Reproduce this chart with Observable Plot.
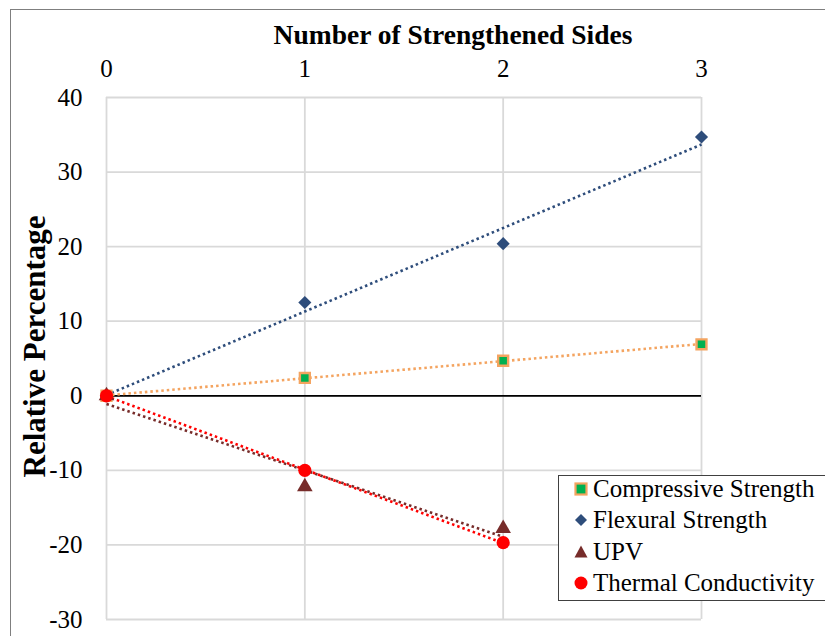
<!DOCTYPE html>
<html>
<head>
<meta charset="utf-8">
<script src="https://cdn.jsdelivr.net/npm/d3@7"></script>
<script src="https://cdn.jsdelivr.net/npm/@observablehq/plot@0.6"></script>
<style>
  body { margin: 0; background: #fff; }
  #wrap { position: relative; width: 825px; height: 636px; overflow: hidden; background: #fff; }
  #wrap svg.plot { position: absolute; left: 0; top: 0; }
  #border { position: absolute; left: 10px; top: 9px; width: 900px; height: 800px; border: 1.5px solid #7f7f7f; pointer-events: none; }
  #legend { position: absolute; left: 558px; top: 475px; width: 300px; height: 124px; border: 1.2px solid #404040; background: #fff;
            font-family: "Liberation Serif", serif; font-size: 25px; color: #000; }
  #legend .row { position: absolute; left: 0; height: 30px; display: flex; align-items: center; }
  #legend .row svg { width: 30px; height: 30px; margin-left: 7px; flex: none; }
  #legend .row span { margin-left: -3px; white-space: nowrap; }
</style>
</head>
<body>
<div id="wrap"></div>
<script>
// ---- data ----
const sides = [0, 1, 2, 3];
const compressive = [0, 2.4, 4.7, 6.9];
const flexural = [0, 12.5, 20.4, 34.7];
const upvSides = [0, 1, 2];
const upv = [0, -12.2, -17.8];
const thermalSides = [0, 1, 2];
const thermal = [0, -10, -19.7];
const xTicks = [0, 1, 2, 3];
const yTicks = [-30, -20, -10, 0, 10, 20, 30, 40];
const seriesNames = ["Compressive Strength", "Flexural Strength", "UPV", "Thermal Conductivity"];

const comp = sides.map((x, i) => ({x, y: compressive[i]}));
const flex = sides.map((x, i) => ({x, y: flexural[i]}));
const upvD = upvSides.map((x, i) => ({x, y: upv[i]}));
const therm = thermalSides.map((x, i) => ({x, y: thermal[i]}));

const C = {comp: "#f4a460", compFill: "#00b050", flex: "#2e4d7b", upv: "#772c2a", therm: "#ff0000"};
const dash = "2.5,3";
const trend = {x: "x", y: "y", ci: 0, strokeWidth: 2.6, strokeDasharray: dash};

const chart = Plot.plot({
  width: 825,
  height: 636,
  marginLeft: 106,
  marginRight: 124,
  marginTop: 97,
  marginBottom: 17,
  style: {fontFamily: "Liberation Serif, serif", fontSize: "25px", background: "transparent", color: "#000"},
  x: {domain: [0, 3]},
  y: {domain: [-30, 40]},
  marks: [
    Plot.gridX(xTicks, {stroke: "#d9d9d9", strokeOpacity: 1, strokeWidth: 1.8}),
    Plot.gridY(yTicks, {stroke: "#d9d9d9", strokeOpacity: 1, strokeWidth: 1.8}),
    Plot.ruleY([0], {stroke: "#000", strokeWidth: 1.8}),
    Plot.axisX({anchor: "top", ticks: xTicks, tickSize: 0, tickPadding: 21, tickFormat: d => String(d), fontSize: 25, label: null}),
    Plot.axisY({ticks: yTicks, tickSize: 0, tickPadding: 24, tickFormat: d => String(d), fontSize: 25, label: null}),
    Plot.linearRegressionY(flex, {...trend, stroke: C.flex}),
    Plot.linearRegressionY(comp, {...trend, stroke: C.comp}),
    Plot.linearRegressionY(upvD, {...trend, stroke: C.upv}),
    Plot.linearRegressionY(therm, {...trend, stroke: C.therm}),
    Plot.dot(comp, {x: "x", y: "y", symbol: "square", r: 5.6, fill: C.compFill, stroke: C.comp, strokeWidth: 2.4}),
    Plot.dot(flex, {x: "x", y: "y", symbol: "diamond2", r: 5.9, fill: C.flex}),
    Plot.dot(upvD, {x: "x", y: "y", symbol: "triangle", r: 5.8, fill: C.upv}),
    Plot.dot(therm, {x: "x", y: "y", symbol: "circle", r: 6.6, fill: C.therm}),
    Plot.text(["Number of Strengthened Sides"], {text: d => d, frameAnchor: "top", lineAnchor: "middle", textAnchor: "middle", dx: 49, dy: -62, fontWeight: "bold", fontSize: 27.5}),
    Plot.text(["Relative Percentage"], {text: d => d, frameAnchor: "left", lineAnchor: "middle", textAnchor: "middle", rotate: -90, dx: -71, dy: -12, fontWeight: "bold", fontSize: 31})
  ]
});
chart.classList.add("plot");
// trendlines: force the dotted pattern on every regression path
chart.querySelectorAll("path").forEach(p => {
  const g = p.parentNode;
  const sw = p.getAttribute("stroke-width") || (g && g.getAttribute("stroke-width"));
  if (sw === "2.6") {
    p.setAttribute("stroke-dasharray", dash);
    p.setAttribute("stroke-linecap", "butt");
    p.style.strokeDasharray = "2.5px, 3px";
  }
});
const wrap = document.getElementById("wrap");
wrap.appendChild(chart);

// legend
const legend = document.createElement("div");
legend.id = "legend";
const symbols = [
  `<rect x="9.5" y="9.5" width="11" height="11" fill="${C.compFill}" stroke="${C.comp}" stroke-width="2.2"/>`,
  `<path d="M15 9 L21 15 L15 21 L9 15 Z" fill="${C.flex}"/>`,
  `<path d="M15 8.5 L21.5 20.5 L8.5 20.5 Z" fill="${C.upv}"/>`,
  `<circle cx="15" cy="15" r="6.5" fill="${C.therm}"/>`
];
const rowTops = [-2, 29, 61, 92];
seriesNames.forEach((name, i) => {
  const row = document.createElement("div");
  row.className = "row";
  row.style.top = rowTops[i] + "px";
  row.innerHTML = `<svg viewBox="0 0 30 30">${symbols[i]}</svg><span>${name}</span>`;
  legend.appendChild(row);
});
wrap.appendChild(legend);

const border = document.createElement("div");
border.id = "border";
wrap.appendChild(border);
</script>
</body>
</html>
